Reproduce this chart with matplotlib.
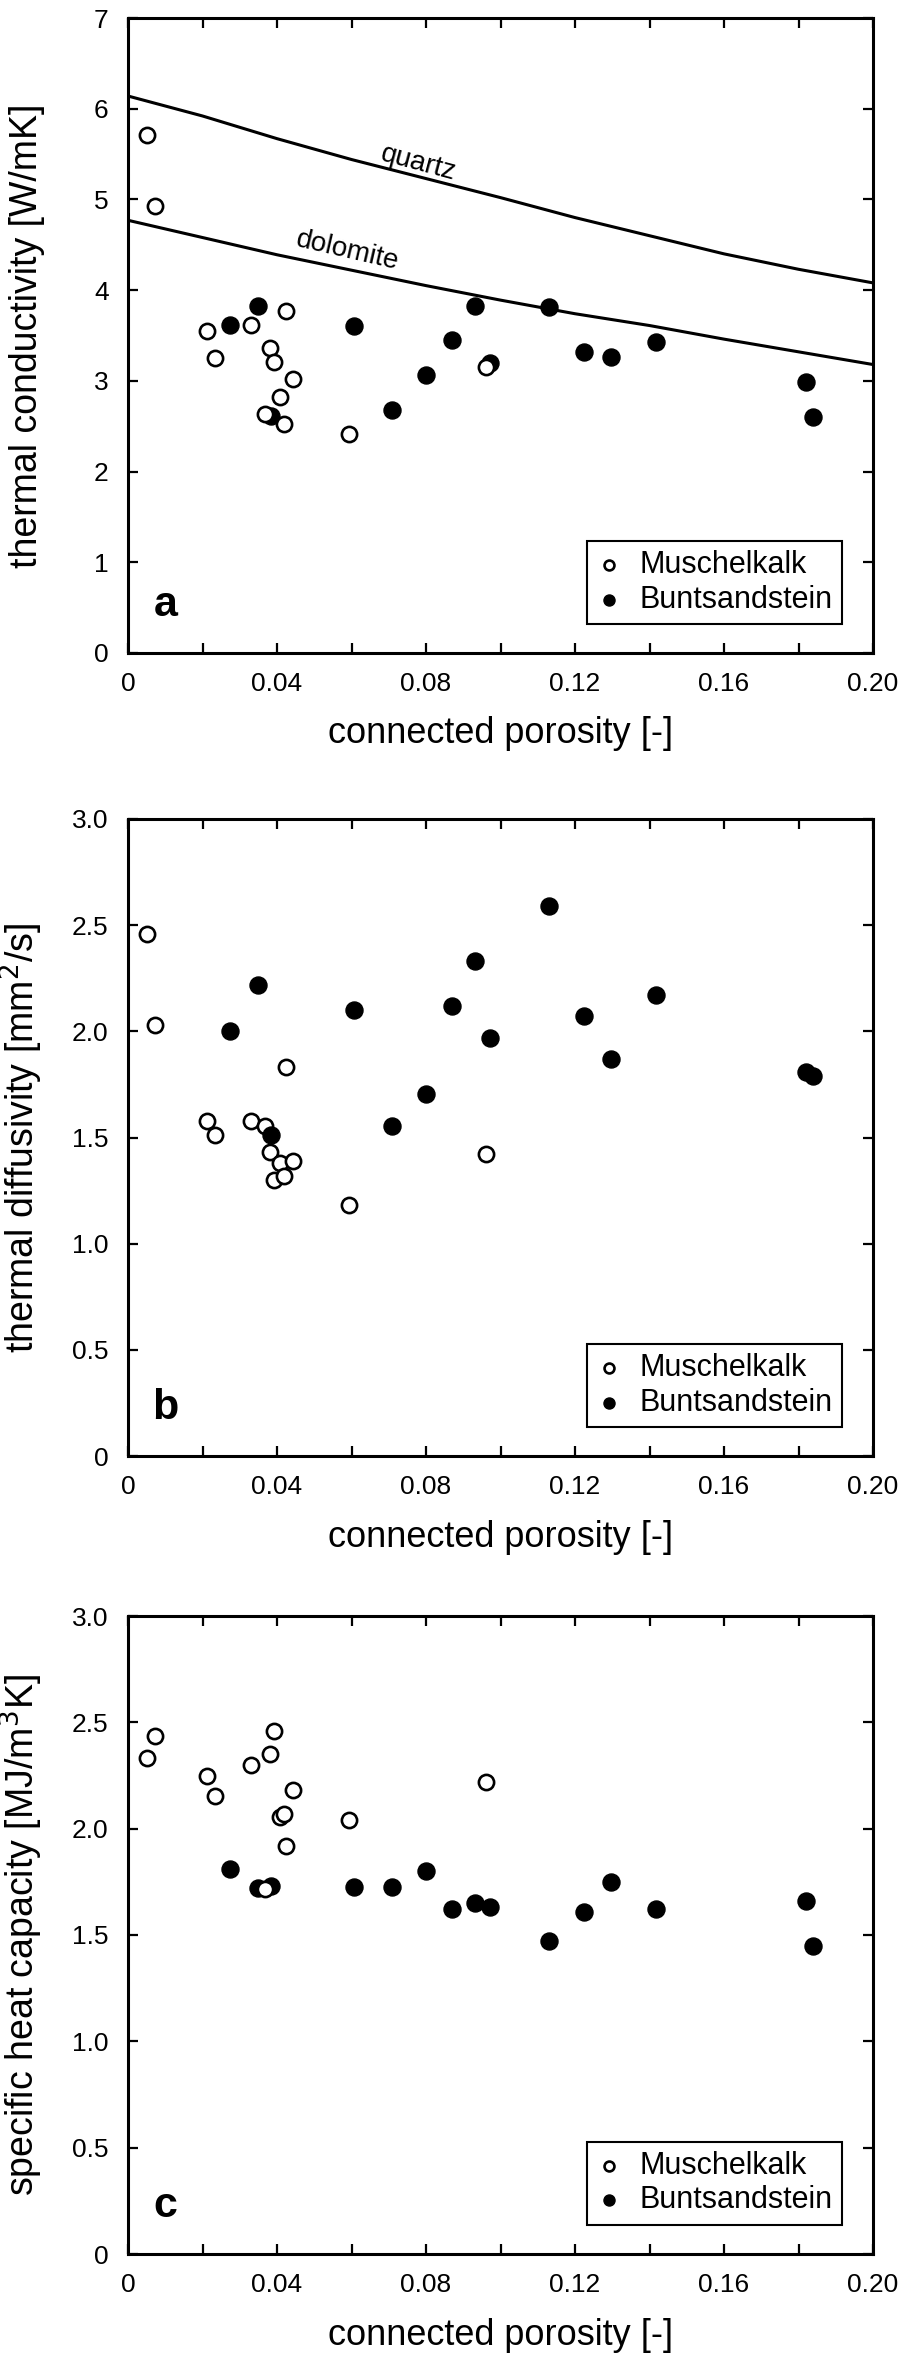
"""Thermal properties of Muschelkalk and Buntsandstein samples vs. porosity."""

import matplotlib.pyplot as plt

plt.rcParams["font.family"] = ["Liberation Sans", "DejaVu Sans"]

# connected porosity of the samples (same samples in all three panels)
musch_porosity = [0.0052, 0.0072, 0.0211, 0.0233, 0.0331, 0.0368, 0.0381, 0.0392,
                  0.0408, 0.0420, 0.0423, 0.0443, 0.0592, 0.0961]
bunt_porosity = [0.0274, 0.0350, 0.0383, 0.0608, 0.0710, 0.0801, 0.0871, 0.0931,
                 0.0972, 0.1130, 0.1225, 0.1297, 0.1417, 0.1820, 0.1839]

# a: thermal conductivity [W/mK]
musch_conductivity = [5.71, 4.93, 3.55, 3.25, 3.62, 2.63, 3.36, 3.21,
                      2.82, 2.52, 3.77, 3.02, 2.41, 3.15]
bunt_conductivity = [3.62, 3.82, 2.61, 3.60, 2.68, 3.06, 3.45, 3.83,
                     3.20, 3.81, 3.32, 3.26, 3.43, 2.99, 2.60]

# b: thermal diffusivity [mm2/s]
musch_diffusivity = [2.46, 2.03, 1.58, 1.51, 1.58, 1.555, 1.43, 1.30,
                     1.38, 1.32, 1.83, 1.39, 1.18, 1.42]
bunt_diffusivity = [2.00, 2.22, 1.51, 2.10, 1.555, 1.705, 2.12, 2.33,
                    1.97, 2.59, 2.07, 1.87, 2.17, 1.81, 1.79]

# c: specific heat capacity [MJ/m3K]
musch_heat_capacity = [2.33, 2.435, 2.25, 2.155, 2.30, 1.717, 2.35, 2.46,
                       2.054, 2.069, 1.92, 2.18, 2.04, 2.22]
bunt_heat_capacity = [1.81, 1.72, 1.73, 1.725, 1.725, 1.80, 1.62, 1.65,
                      1.63, 1.47, 1.61, 1.75, 1.62, 1.66, 1.45]

# model curves for pure quartz / dolomite matrix (panel a)
curve_porosity = [0.0, 0.02, 0.04, 0.06, 0.08, 0.10, 0.12, 0.14, 0.16, 0.18, 0.20]
quartz_curve = [6.14, 5.92, 5.67, 5.44, 5.23, 5.02, 4.80, 4.60, 4.40, 4.23, 4.08]
dolomite_curve = [4.77, 4.58, 4.39, 4.22, 4.05, 3.89, 3.74, 3.61, 3.46, 3.32, 3.18]

x_ticks = [0.0, 0.04, 0.08, 0.12, 0.16, 0.20]
x_ticklabels = ["0", "0.04", "0.08", "0.12", "0.16", "0.20"]
x_minor = [0.02, 0.06, 0.10, 0.14, 0.18]
yticks_a = [0, 1, 2, 3, 4, 5, 6, 7]
yticklabels_a = ["0", "1", "2", "3", "4", "5", "6", "7"]
yticks_bc = [0, 0.5, 1.0, 1.5, 2.0, 2.5, 3.0]
yticklabels_bc = ["0", "0.5", "1.0", "1.5", "2.0", "2.5", "3.0"]

W, H = 898, 2357
LEFT, RIGHT = 128, 873
TICK_FS = 19
XLABEL_FS = 26
YLABEL_FS = 27


def make_axes(fig, top, bottom):
    return fig.add_axes([LEFT / W, 1 - bottom / H, (RIGHT - LEFT) / W, (bottom - top) / H])


def draw_points(ax, musch_y, bunt_y, filled_first=True):
    open_kw = dict(s=120, facecolors="white", edgecolors="black", linewidths=1.9)
    fill_kw = dict(s=150, facecolors="black", edgecolors="black", linewidths=1.0)
    z_open, z_fill = (4, 3) if filled_first else (3, 4)
    h_fill = ax.scatter(bunt_porosity, bunt_y, zorder=z_fill, **fill_kw)
    h_open = ax.scatter(musch_porosity, musch_y, zorder=z_open, **open_kw)
    return h_open, h_fill


def style_axes(ax, handles, ylim, yticks, yticklabels, ylabel, letter):
    ax.set_xlim(0, 0.20)
    ax.set_ylim(*ylim)
    ax.set_xticks(x_ticks)
    ax.set_xticklabels(x_ticklabels)
    ax.set_xticks(x_minor, minor=True)
    ax.set_yticks(yticks)
    ax.set_yticklabels(yticklabels)
    for sp in ax.spines.values():
        sp.set_linewidth(2.2)
    ax.tick_params(which="both", direction="in", top=True, right=True,
                   length=7.5, width=1.6, pad=14, labelsize=TICK_FS)
    ax.set_xlabel("connected porosity [-]", fontsize=XLABEL_FS)
    ax.xaxis.set_label_coords(0.5, -0.1)
    ax.set_ylabel(ylabel, fontsize=YLABEL_FS)
    ax.yaxis.set_label_coords(-0.112, 0.5)
    ax.text(0.05, 0.075, letter, transform=ax.transAxes, fontsize=31,
            fontweight="bold", ha="center", va="center")
    leg = ax.legend(handles, ["Muschelkalk", "Buntsandstein"],
                    loc="lower right", bbox_to_anchor=(0.958, 0.046),
                    borderaxespad=0, fontsize=22, fancybox=False,
                    edgecolor="black", framealpha=1, markerscale=0.65,
                    handletextpad=0.6, borderpad=0.3, labelspacing=0.15,
                    handlelength=0.8)
    leg.get_frame().set_linewidth(1.5)


def main() -> None:
    fig = plt.figure(figsize=(W / 100, H / 100), dpi=100)

    # panel a
    ax = make_axes(fig, 18, 653)
    ax.plot(curve_porosity, quartz_curve, color="black", lw=2.2, zorder=2)
    ax.plot(curve_porosity, dolomite_curve, color="black", lw=2.2, zorder=2)
    ax.text(0.078, 5.40, "quartz", fontsize=20, rotation=-15,
            ha="center", va="center")
    ax.text(0.059, 4.43, "dolomite", fontsize=20, rotation=-13,
            ha="center", va="center")
    handles = draw_points(ax, musch_conductivity, bunt_conductivity)
    style_axes(ax, handles, (0, 7), yticks_a, yticklabels_a,
               "thermal conductivity [W/mK]", "a")

    # panel b
    ax = make_axes(fig, 819, 1456)
    handles = draw_points(ax, musch_diffusivity, bunt_diffusivity, filled_first=False)
    style_axes(ax, handles, (0, 3), yticks_bc, yticklabels_bc,
               "thermal diffusivity [mm$^2$/s]", "b")

    # panel c
    ax = make_axes(fig, 1616, 2254)
    handles = draw_points(ax, musch_heat_capacity, bunt_heat_capacity)
    style_axes(ax, handles, (0, 3), yticks_bc, yticklabels_bc,
               "specific heat capacity [MJ/m$^3$K]", "c")

    fig.savefig("out.png", dpi=100)
    plt.close(fig)


if __name__ == "__main__":
    main()
